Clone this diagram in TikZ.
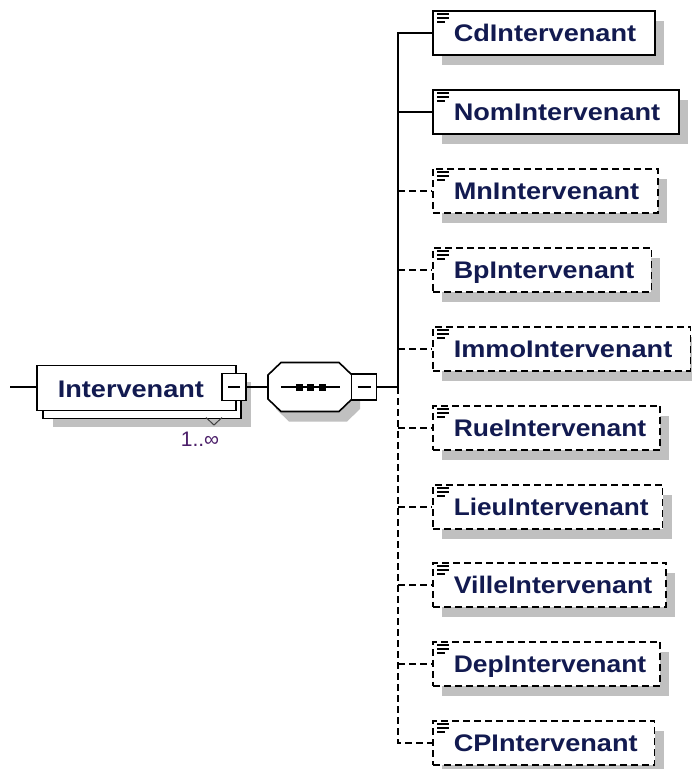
\documentclass[tikz,border=0pt]{standalone}
\usepackage{fontspec}
\usepackage{graphicx}
\setmainfont{Liberation Sans}
\newfontfamily\elfont[FakeStretch=1.13]{Liberation Sans}
\usetikzlibrary{shadows}
\definecolor{elcol}{RGB}{18,26,80}
\definecolor{shgray}{RGB}{192,192,192}
\definecolor{cardcol}{RGB}{75,30,105}
\tikzset{
  shad/.style={general shadow={fill=shgray, shadow xshift=9pt, shadow yshift=-10pt}},
  elem/.style={draw=black, line width=1.6pt, fill=white, anchor=north west,
    inner xsep=0pt, inner ysep=0pt, text height=31pt, text depth=13pt,
    font=\elfont\bfseries\fontsize{24}{28}\selectfont, text=elcol, shad},
  opt/.style={elem, dash pattern=on 7pt off 4pt},
  conn/.style={line width=1.6pt, black},
  optconn/.style={conn, dash pattern=on 7pt off 4pt},
  icon/.style={line width=1.3pt, black},
  minusbox/.style={draw=black, line width=1.6pt, fill=white, inner sep=0pt},
}
\newcommand{\elicon}[1]{%
  \draw[icon] ([shift={(5,4)}]#1.north west) -- ++(12,0);
  \draw[icon] ([shift={(5,8)}]#1.north west) -- ++(12,0);
  \draw[icon] ([shift={(5,12)}]#1.north west) -- ++(8,0);
}
\newcommand{\sq}[2]{\scalebox{#1}[1]{#2}}
\begin{document}
\begin{tikzpicture}[x=1pt,y=-1pt]
\useasboundingbox (0,0) rectangle (692,769);
\fill[white] (0,0) rectangle (692,769);

% main element Intervenant (stacked)
\node[minusbox, anchor=north west, minimum width=198pt, minimum height=45pt,
  general shadow={fill=shgray, shadow xshift=10pt, shadow yshift=-9pt}] (intback) at (42,372.5) {};
\node[draw=black, line width=1.6pt, fill=white, anchor=north west,
    inner xsep=0pt, inner ysep=0pt, text height=32pt, text depth=13pt,
    font=\elfont\bfseries\fontsize{24}{28}\selectfont, text=elcol] (int) at (36,364.5)
  {\hspace*{21pt}Intervenant\hspace*{32pt}};
\node[minusbox, minimum width=24pt, minimum height=27pt] (intm) at (234,387) {};
\draw[conn] ([xshift=-6pt]intm.center) -- ([xshift=6pt]intm.center);
\coordinate (vl) at (206,417.5);
\coordinate (vm) at (214,425);
\coordinate (vr) at (222,417.5);
\draw[line width=1pt, black!75] (vl) -- (vm) -- (vr);
\node[font=\fontsize{21}{24}\selectfont, text=cardcol, inner sep=0pt] (card) at (200,439) {1..∞};

\coordinate (in) at (10,387);
\draw[conn] (in) -- (int.west |- intm.center);

% sequence compositor
\node[inner sep=0pt, minimum width=84pt, minimum height=49pt] (seq) at (310,387) {};
\draw[conn, fill=white, general shadow={fill=shgray, shadow xshift=8pt, shadow yshift=-10pt}]
  ([shift={(-42,-12)}]seq.center) -- ([shift={(-29,-24.5)}]seq.center)
  -- ([shift={(29,-24.5)}]seq.center) -- ([shift={(42,-12)}]seq.center)
  -- ([shift={(42,12)}]seq.center) -- ([shift={(29,24.5)}]seq.center)
  -- ([shift={(-29,24.5)}]seq.center) -- ([shift={(-42,12)}]seq.center) -- cycle;
\draw[conn] ([xshift=-29pt]seq.center) -- ([xshift=30pt]seq.center);
\foreach \dx in {-11,0,12} {
  \fill[black] ([shift={(\dx-3.5,-3.5)}]seq.center) rectangle ([shift={(\dx+3.5,3.5)}]seq.center);
}
\node[minusbox, minimum width=25pt, minimum height=26pt] (seqm) at (364,387) {};
\draw[conn] ([xshift=-6.5pt]seqm.center) -- ([xshift=6.5pt]seqm.center);

\draw[conn] (intm.east) -- (seq.west);

% children
\node[elem] (cd)    at (432,10)  {\hspace*{21pt}CdIntervenant\hspace*{19pt}};
\node[elem] (nom)   at (432,89)  {\hspace*{21pt}NomIntervenant\hspace*{19pt}};
\node[opt]  (mn)    at (432,168) {\hspace*{21pt}MnIntervenant\hspace*{19pt}};
\node[opt]  (bp)    at (432,247) {\hspace*{21pt}\sq{0.99}{BpIntervenant}\hspace*{17pt}};
\node[opt]  (immo)  at (432,326) {\hspace*{21pt}ImmoIntervenant\hspace*{18pt}};
\node[opt]  (rue)   at (432,405) {\hspace*{21pt}\sq{0.975}{RueIntervenant}\hspace*{14pt}};
\node[opt]  (lieu)  at (432,484) {\hspace*{21pt}\sq{0.965}{LieuIntervenant}\hspace*{14pt}};
\node[opt]  (ville) at (432,562) {\hspace*{21pt}\sq{0.985}{VilleIntervenant}\hspace*{14pt}};
\node[opt]  (dep)   at (432,641) {\hspace*{21pt}\sq{0.975}{DepIntervenant}\hspace*{14pt}};
\node[opt]  (cp)    at (432,720) {\hspace*{21pt}CPIntervenant\hspace*{17pt}};
\foreach \n in {cd,nom,mn,bp,immo,rue,lieu,ville,dep,cp} {\elicon{\n}}

\coordinate (j) at (398,387);
\draw[conn] (seqm.east) -- (j);
\draw[conn] (j) -- (j |- cd.west) -- (cd.west);
\draw[conn] (j |- nom.west) -- (nom.west);
\draw[optconn] (j) -- (j |- cp.west) -- (cp.west);
\foreach \n in {mn,bp,immo,rue,lieu,ville,dep} {
  \draw[optconn] (j |- \n.west) -- (\n.west);
}
\end{tikzpicture}
\end{document}
